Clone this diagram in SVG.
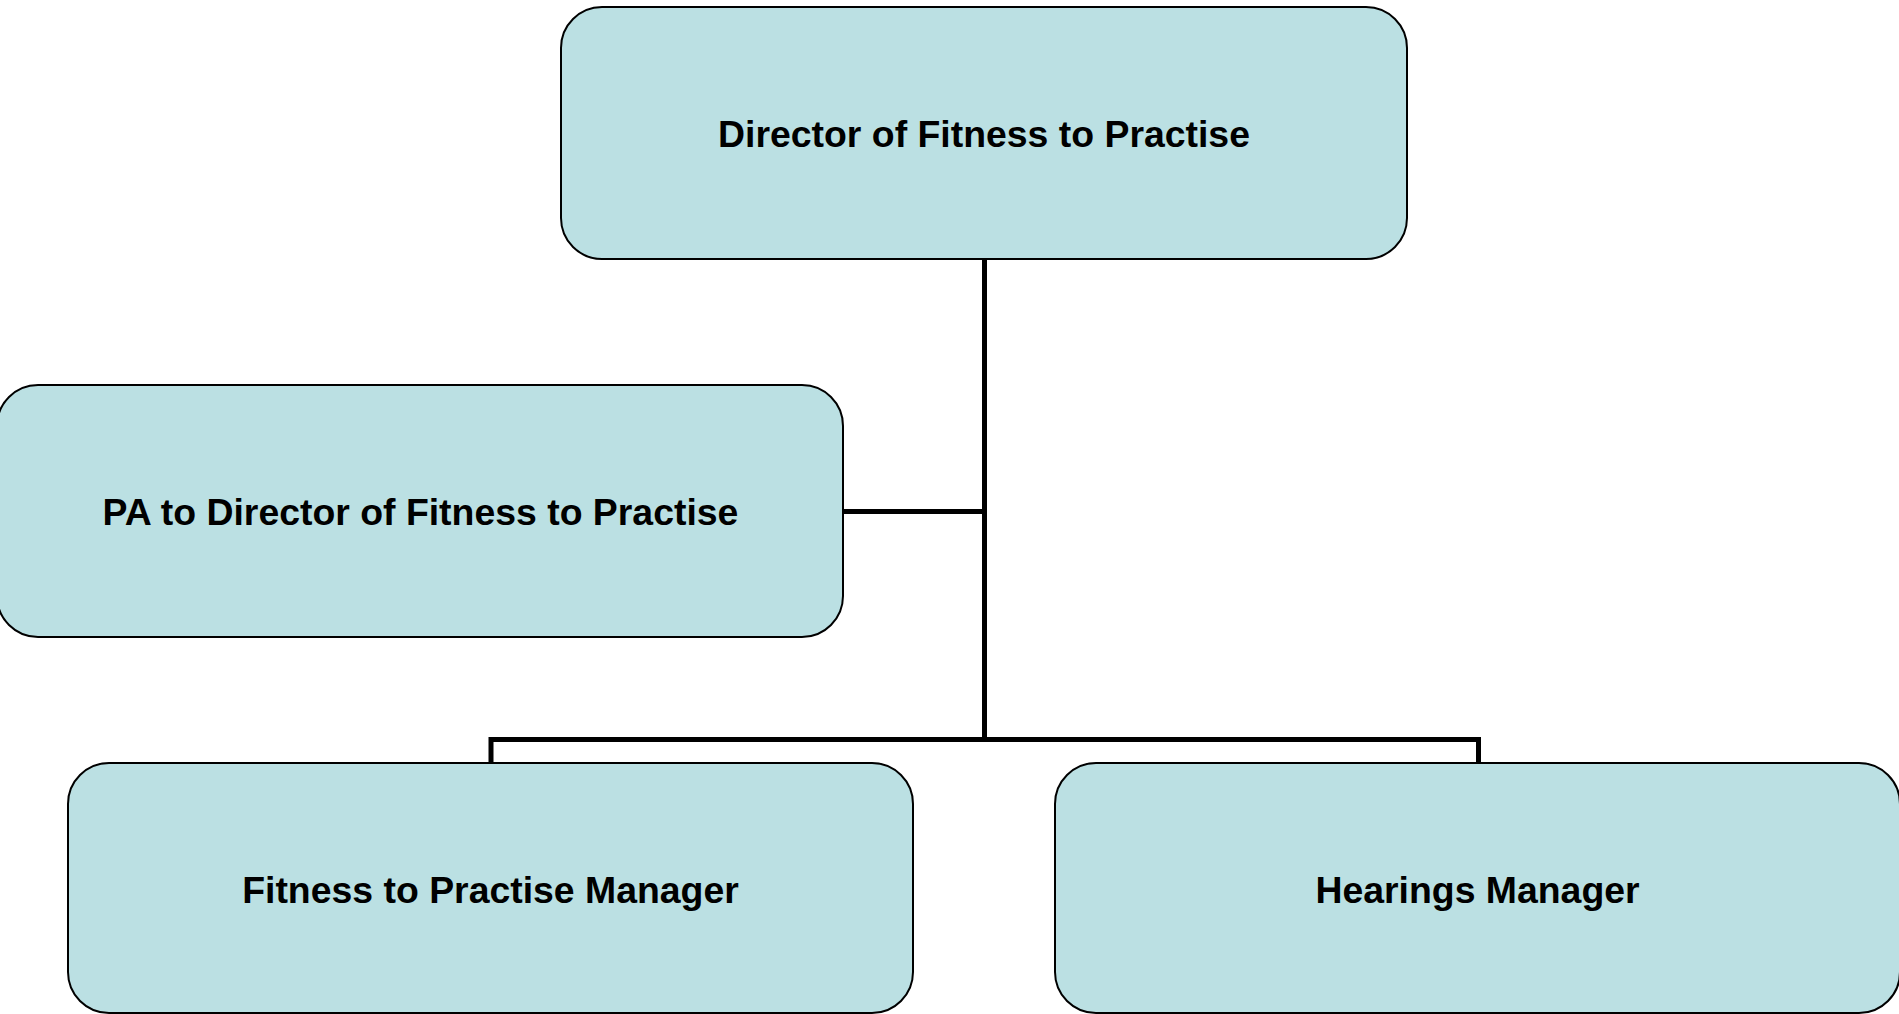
<svg xmlns="http://www.w3.org/2000/svg" width="1899" height="1014" viewBox="0 0 1899 1014">
<style>
.box{fill:#BBE0E3;stroke:#000;stroke-width:2}
.lbl{font-family:"Liberation Sans",Arial,sans-serif;font-weight:bold;font-size:37.4px;fill:#000;text-anchor:middle}
.conn{fill:none;stroke:#000;stroke-width:5}
</style>
<rect width="1899" height="1014" fill="#fff"/>
<g id="connectors">
<line class="conn" x1="984.5" y1="259" x2="984.5" y2="742"/>
<line class="conn" x1="843" y1="511.5" x2="984.5" y2="511.5"/>
<polyline class="conn" points="491,763 491,739.5 1478.5,739.5 1478.5,763"/>
</g>
<g id="director">
<rect class="box" x="561" y="7" width="846" height="252" rx="41" ry="41"/>
<text class="lbl" x="984" y="146.5">Director of Fitness to Practise</text>
</g>
<g id="pa">
<rect class="box" x="-3" y="385" width="846" height="252" rx="41" ry="41"/>
<text class="lbl" x="420.5" y="524.5">PA to Director of Fitness to Practise</text>
</g>
<g id="ftp-manager">
<rect class="box" x="68" y="763" width="845" height="250" rx="41" ry="41"/>
<text class="lbl" x="490.5" y="903">Fitness to Practise Manager</text>
</g>
<g id="hearings-manager">
<rect class="box" x="1055" y="763" width="845" height="250" rx="41" ry="41"/>
<text class="lbl" x="1477.5" y="903">Hearings Manager</text>
</g>
</svg>
